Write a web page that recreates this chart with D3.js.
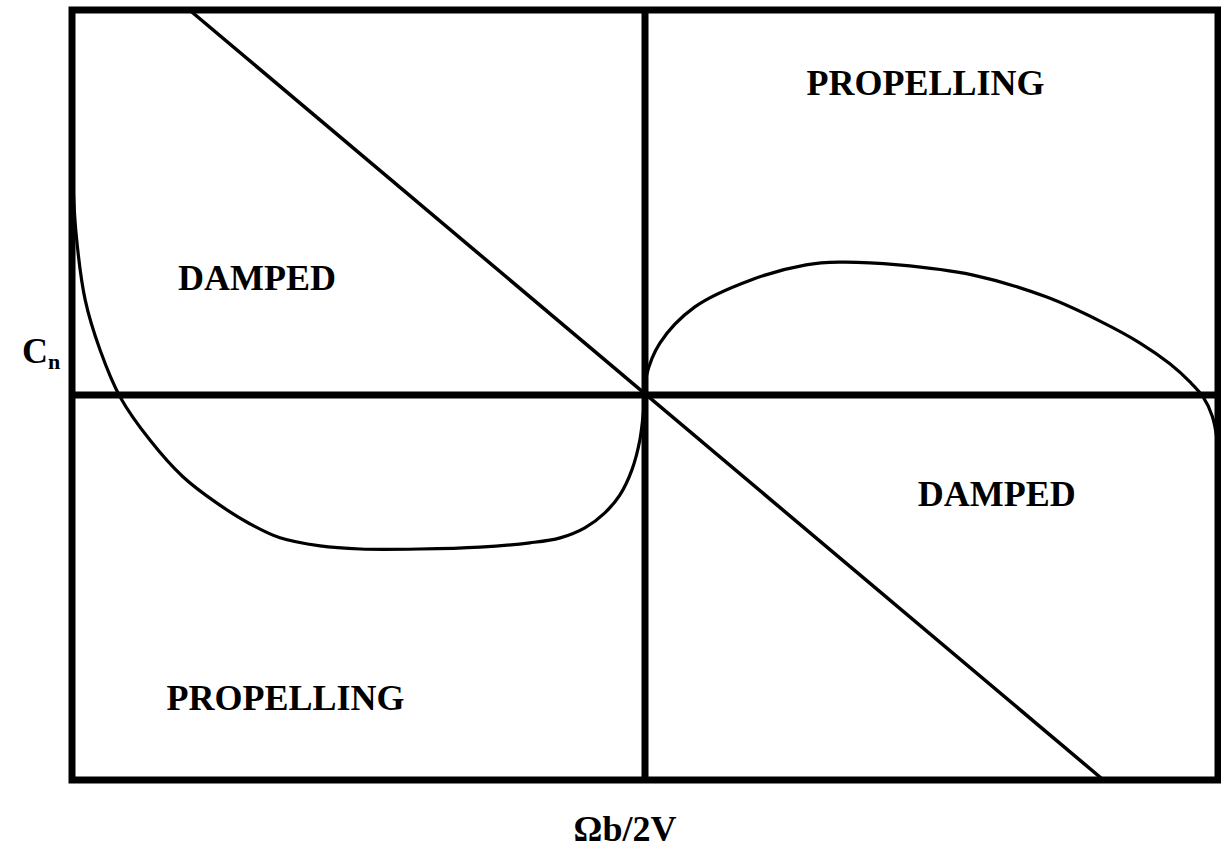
<!DOCTYPE html>
<html>
<head>
<meta charset="utf-8">
<script src="https://cdn.jsdelivr.net/npm/d3@7"></script>
<style>
  html, body { margin: 0; padding: 0; background: #fff; }
  svg { display: block; }
  text { font-family: "Liberation Serif", "Times New Roman", serif; font-weight: bold; fill: #000; }
</style>
</head>
<body>
<svg id="chart" width="1221" height="850"></svg>
<script>
// Non-dimensional spin rate (Ωb/2V) and yawing moment coefficient (Cn) along the curve
const spinRate = [-1.000, -0.993, -0.977, -0.951, -0.916, -0.864, -0.806, -0.747, -0.689, -0.637,
                  -0.567, -0.497, -0.393, -0.288, -0.201, -0.148, -0.105, -0.070, -0.044, -0.023,
                  -0.009, 0.000, 0.002, 0.026, 0.087, 0.185, 0.281, 0.339, 0.442, 0.571,
                   0.700, 0.794, 0.864, 0.916, 0.951, 0.974, 0.990, 0.998, 1.000];
const yawMoment = [0.610, 0.421, 0.247, 0.117, -0.005, -0.117, -0.213, -0.281, -0.335, -0.371,
                   -0.392, -0.400, -0.400, -0.395, -0.384, -0.371, -0.345, -0.306, -0.260, -0.195,
                   -0.117, 0.000, 0.047, 0.135, 0.229, 0.299, 0.338, 0.345, 0.338, 0.312,
                    0.255, 0.192, 0.135, 0.081, 0.034, -0.005, -0.055, -0.112, -0.148];

// Boundary between damped and propelling regions (aerodynamic damping line)
const boundaryRate = [-0.795, 0.800];
const boundaryMoment = [1, -1];

// Region labels
const regionNames = ["DAMPED", "PROPELLING", "DAMPED", "PROPELLING"];
const regionRate = [-0.815, 0.282, 0.476, -0.835];
const regionMoment = [0.274, 0.780, -0.288, -0.818];

const svg = d3.select("#chart");

const x = d3.scaleLinear().domain([-1, 1]).range([72, 1218]);
const y = d3.scaleLinear().domain([-1, 1]).range([780, 10]);

// Plot frame
svg.append("rect")
  .attr("x", x(-1)).attr("y", y(1))
  .attr("width", x(1) - x(-1)).attr("height", y(-1) - y(1))
  .attr("fill", "none").attr("stroke", "#000").attr("stroke-width", 7);

// Zero axes through the middle
svg.append("line")
  .attr("x1", x(-1)).attr("x2", x(1)).attr("y1", y(0)).attr("y2", y(0))
  .attr("stroke", "#000").attr("stroke-width", 7);
svg.append("line")
  .attr("x1", x(0)).attr("x2", x(0)).attr("y1", y(1)).attr("y2", y(-1))
  .attr("stroke", "#000").attr("stroke-width", 7);

// Damping boundary
svg.append("line")
  .attr("x1", x(boundaryRate[0])).attr("y1", y(boundaryMoment[0]))
  .attr("x2", x(boundaryRate[1])).attr("y2", y(boundaryMoment[1]))
  .attr("stroke", "#000").attr("stroke-width", 3.5);

// Yawing moment curve
const pts = spinRate.map((r, i) => [r, yawMoment[i]]);
const line = d3.line()
  .x(d => x(d[0])).y(d => y(d[1]))
  .curve(d3.curveCatmullRom.alpha(0.5));
svg.append("path")
  .attr("d", line(pts))
  .attr("fill", "none").attr("stroke", "#000").attr("stroke-width", 3.2)
  .attr("stroke-linejoin", "round");

// Region labels
svg.selectAll("text.region")
  .data(regionNames)
  .join("text")
  .attr("class", "region")
  .attr("x", (d, i) => x(regionRate[i]))
  .attr("y", (d, i) => y(regionMoment[i]))
  .attr("font-size", 36)
  .text(d => d);

// Axis titles
svg.append("text")
  .attr("x", 625).attr("y", 841)
  .attr("text-anchor", "middle")
  .attr("font-size", 36)
  .text("Ωb/2V");

const cn = svg.append("text").attr("x", 22).attr("y", 363).attr("font-size", 36);
cn.append("tspan").text("C");
cn.append("tspan").attr("font-size", 22).attr("dy", 6).text("n");
</script>
</body>
</html>
